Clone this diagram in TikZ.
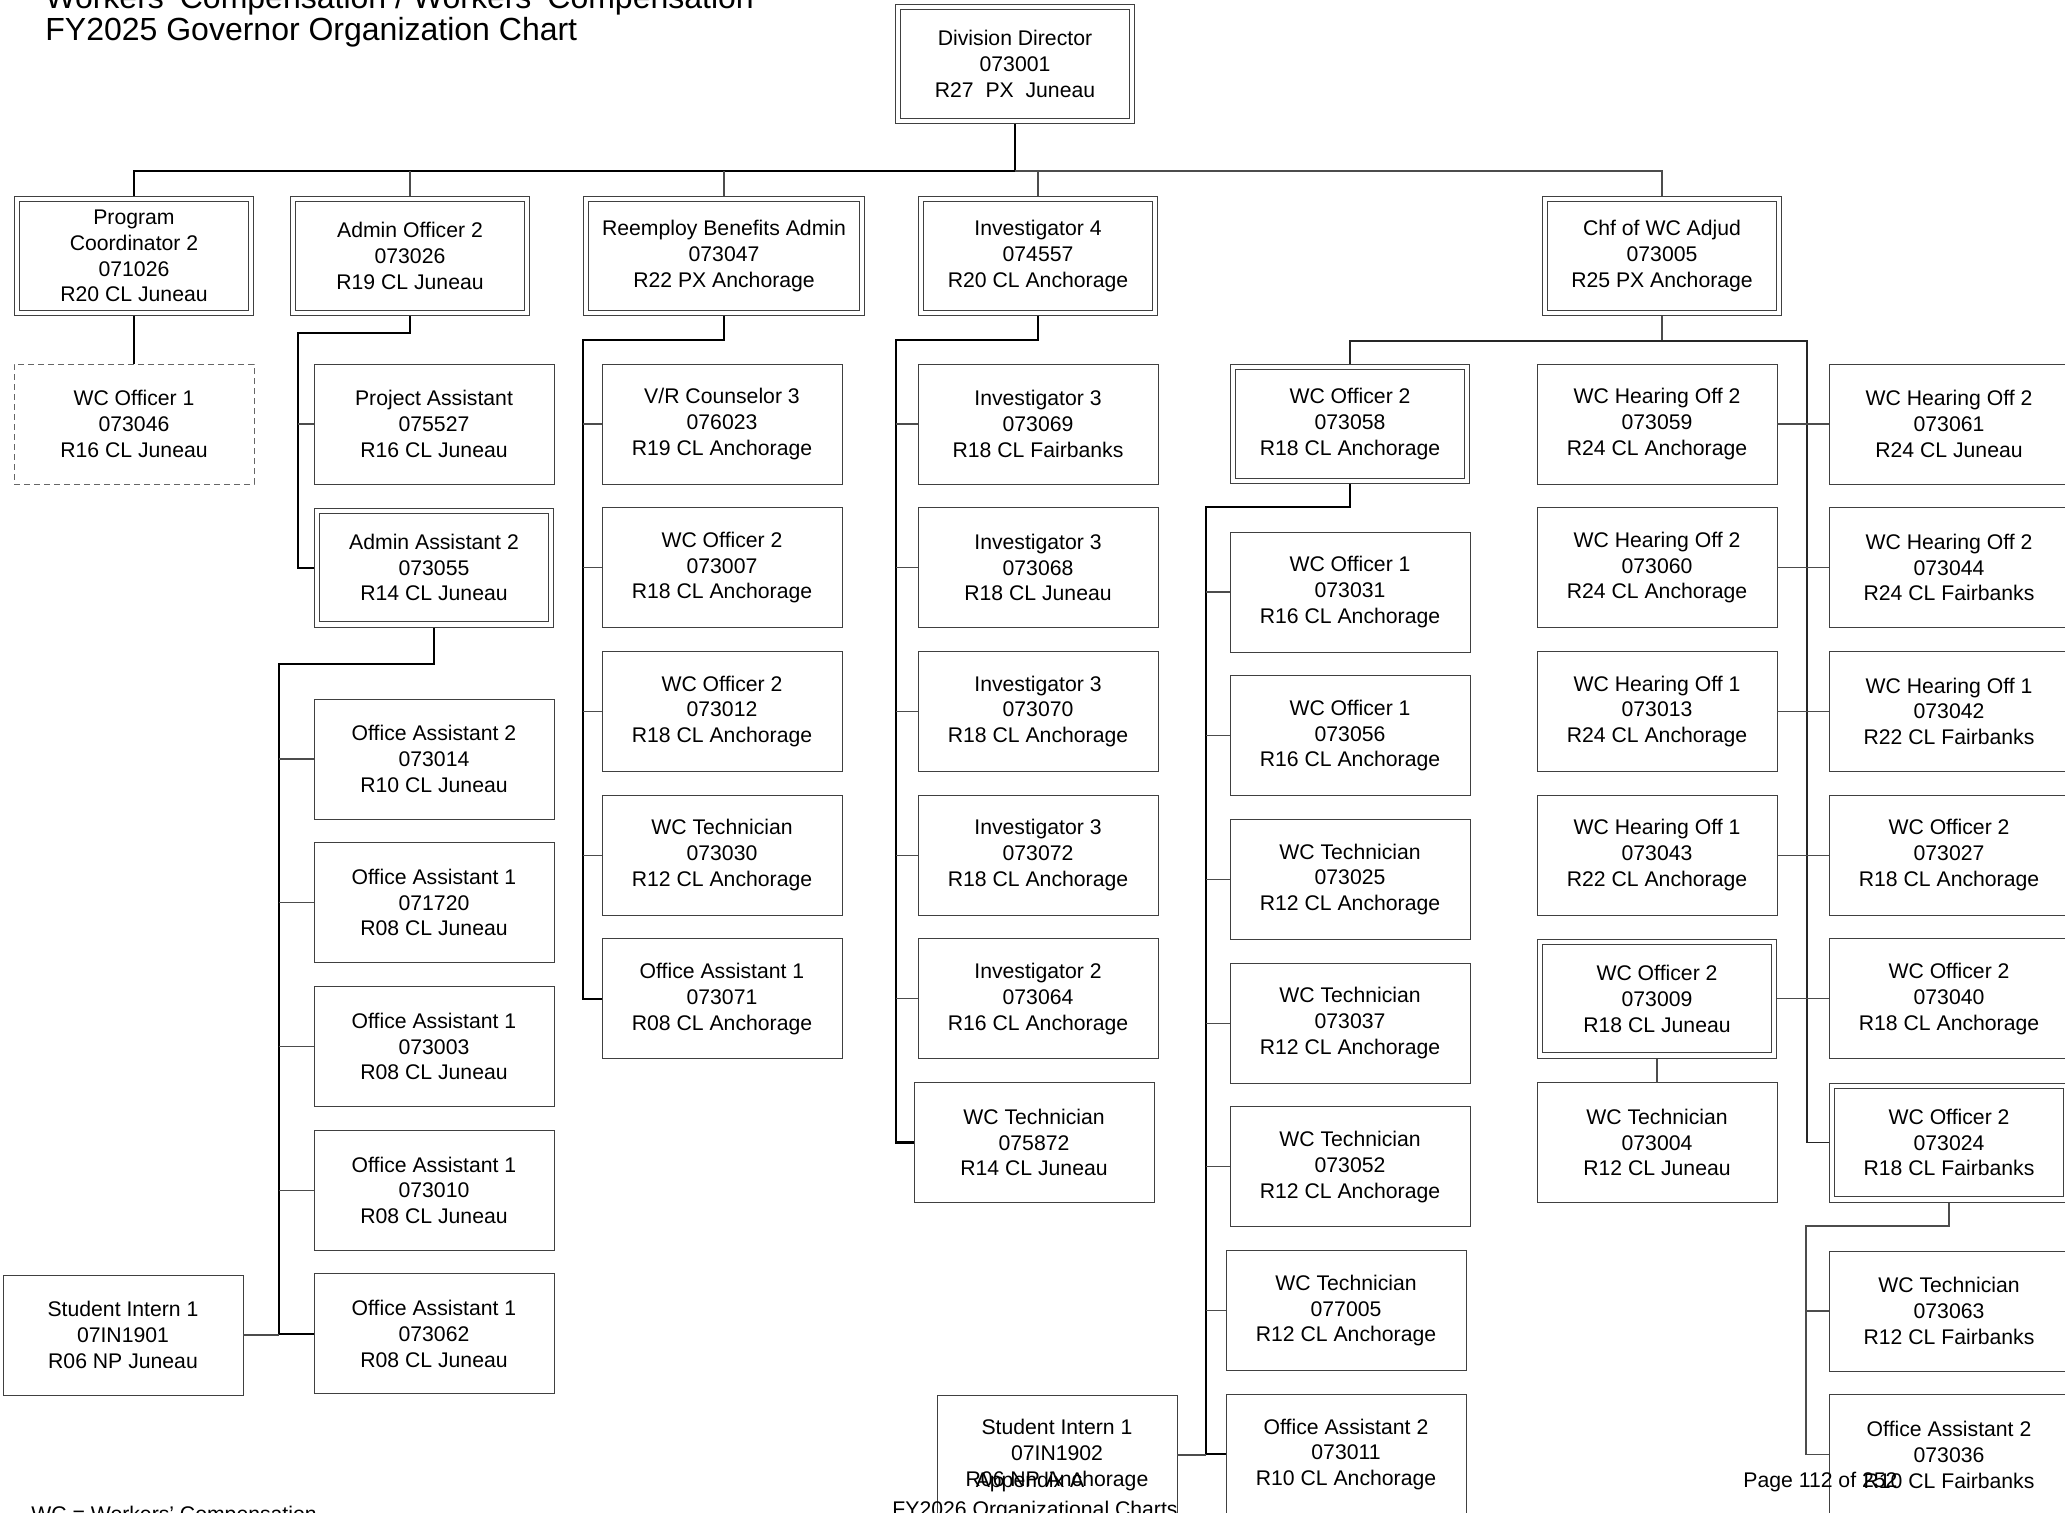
\documentclass[tikz,border=0pt]{standalone}
\usepackage{fontspec}
\setmainfont{Liberation Sans}
\usetikzlibrary{positioning}

\begin{document}
\begin{tikzpicture}[x=0.5pt, y=-0.5pt, node distance=11.85pt,
    post/.style={draw=black!75, line width=0.5pt, fill=white, minimum width=120pt, minimum height=60pt,
      inner sep=0pt, outer sep=0pt, align=center, font=\fontsize{10.6}{12.85}\selectfont},
    lead/.style={post, double=white, double distance=2.2pt, minimum width=116.8pt, minimum height=56.8pt, outer sep=1.6pt},
    vacant/.style={post, draw=black!60, dash pattern=on 3pt off 2pt},
    trunk/.style={line width=1.2pt},
    twig/.style={line width=0.6pt, draw=black!70},
    note/.style={inner sep=0pt, font=\fontsize{10.6}{12.85}\selectfont}]
  \useasboundingbox (0,0) rectangle (2065,1512);
  \clip (0,0) rectangle (2065,1512);

  \node[note, anchor=base west, font=\fontsize{16}{16}\selectfont] (head1) at (45,8) {Workers' Compensation / Workers' Compensation};
  \node[note, anchor=base west, font=\fontsize{16}{16}\selectfont] (head2) at (45,40) {FY2025 Governor Organization Chart};

  \node[lead] (dir) at (1015,64) {Division Director\\073001\\R27~ PX~ Juneau};

  \node[lead] (prog) at (134,256) {Program\\Coordinator 2\\071026\\R20 CL Juneau};
  \node[lead] (admin) at (410,256) {Admin Officer 2\\073026\\R19 CL Juneau};
  \node[lead, minimum width=137.8pt] (reemp) at (724,256) {Reemploy Benefits Admin\\073047\\R22 PX Anchorage};
  \node[lead] (inv4) at (1038,256) {Investigator 4\\074557\\R20 CL Anchorage};
  \node[lead] (chief) at (1662,256) {Chf of WC Adjud\\073005\\R25 PX Anchorage};

  \node[vacant] (wco1) at (134,424) {WC Officer 1\\073046\\R16 CL Juneau};
  \node[post] (stud1) at (123,1335) {Student Intern 1\\07IN1901\\R06 NP Juneau};

  \node[post] (proj) at (434,424) {Project Assistant\\075527\\R16 CL Juneau};
  \node[lead, below=of proj] (asst2) {Admin Assistant 2\\073055\\R14 CL Juneau};
  \node[post] (oa2b) at (434,759) {Office Assistant 2\\073014\\R10 CL Juneau};
  \node[post, below=of oa2b] (oa1b1) {Office Assistant 1\\071720\\R08 CL Juneau};
  \node[post, below=of oa1b1] (oa1b2) {Office Assistant 1\\073003\\R08 CL Juneau};
  \node[post, below=of oa1b2] (oa1b3) {Office Assistant 1\\073010\\R08 CL Juneau};
  \node[post, below=of oa1b3] (oa1b4) {Office Assistant 1\\073062\\R08 CL Juneau};

  \node[post] (vrc) at (722,424) {V/R Counselor 3\\076023\\R19 CL Anchorage};
  \node[post, below=of vrc] (wco2c1) {WC Officer 2\\073007\\R18 CL Anchorage};
  \node[post, below=of wco2c1] (wco2c2) {WC Officer 2\\073012\\R18 CL Anchorage};
  \node[post, below=of wco2c2] (techc) {WC Technician\\073030\\R12 CL Anchorage};
  \node[post, below=of techc] (oa1c) {Office Assistant 1\\073071\\R08 CL Anchorage};

  \node[post] (inv3a) at (1038,424) {Investigator 3\\073069\\R18 CL Fairbanks};
  \node[post, below=of inv3a] (inv3b) {Investigator 3\\073068\\R18 CL Juneau};
  \node[post, below=of inv3b] (inv3c) {Investigator 3\\073070\\R18 CL Anchorage};
  \node[post, below=of inv3c] (inv3d) {Investigator 3\\073072\\R18 CL Anchorage};
  \node[post, below=of inv3d] (inv2) {Investigator 2\\073064\\R16 CL Anchorage};
  \node[post, below=of inv2, xshift=-2pt] (techd) {WC Technician\\075872\\R14 CL Juneau};
  \node[post] (stud2) at (1057,1455) {Student Intern 1\\07IN1902\\R06 NP Anchorage};

  \node[lead] (wco2e) at (1350,424) {WC Officer 2\\073058\\R18 CL Anchorage};
  \node[post] (wco1e1) at (1350,592) {WC Officer 1\\073031\\R16 CL Anchorage};
  \node[post, below=of wco1e1] (wco1e2) {WC Officer 1\\073056\\R16 CL Anchorage};
  \node[post, below=of wco1e2] (teche1) {WC Technician\\073025\\R12 CL Anchorage};
  \node[post, below=of teche1] (teche2) {WC Technician\\073037\\R12 CL Anchorage};
  \node[post, below=of teche2] (teche3) {WC Technician\\073052\\R12 CL Anchorage};
  \node[post, below=of teche3, xshift=-2pt] (teche4) {WC Technician\\077005\\R12 CL Anchorage};
  \node[post, below=of teche4] (oa2e) {Office Assistant 2\\073011\\R10 CL Anchorage};

  \node[post] (hearf1) at (1657,424) {WC Hearing Off 2\\073059\\R24 CL Anchorage};
  \node[post, below=of hearf1] (hearf2) {WC Hearing Off 2\\073060\\R24 CL Anchorage};
  \node[post, below=of hearf2] (hearf3) {WC Hearing Off 1\\073013\\R24 CL Anchorage};
  \node[post, below=of hearf3] (hearf4) {WC Hearing Off 1\\073043\\R22 CL Anchorage};
  \node[lead, below=of hearf4] (wco2f) {WC Officer 2\\073009\\R18 CL Juneau};
  \node[post, below=of wco2f] (techf) {WC Technician\\073004\\R12 CL Juneau};

  \node[post] (hearg1) at (1949,424) {WC Hearing Off 2\\073061\\R24 CL Juneau};
  \node[post, below=of hearg1] (hearg2) {WC Hearing Off 2\\073044\\R24 CL Fairbanks};
  \node[post, below=of hearg2] (hearg3) {WC Hearing Off 1\\073042\\R22 CL Fairbanks};
  \node[post, below=of hearg3] (wco2g1) {WC Officer 2\\073027\\R18 CL Anchorage};
  \node[post, below=of wco2g1] (wco2g2) {WC Officer 2\\073040\\R18 CL Anchorage};
  \node[lead, below=of wco2g2] (wco2g3) {WC Officer 2\\073024\\R18 CL Fairbanks};
  \node[post] (techg) at (1949,1311) {WC Technician\\073063\\R12 CL Fairbanks};
  \node[post, below=of techg] (oa2g) {Office Assistant 2\\073036\\R10 CL Fairbanks};

  \coordinate (hub) at (1015,171);
  \draw[trunk] (dir.south) -- (hub);
  \draw[trunk] (hub) -| (prog.north);
  \draw[twig] (hub) -| (chief.north);
  \foreach \n in {admin,reemp,inv4}
    \draw[twig] (hub -| \n.north) -- (\n.north);
  \draw[trunk] (prog.south) -- (wco1.north);

  \coordinate (jadm) at (298,333);
  \draw[trunk] (admin.south) |- (jadm) |- (asst2.west);
  \draw[twig] (jadm |- proj.west) -- (proj.west);

  \coordinate (jasst) at (279,664);
  \draw[trunk] (asst2.south) |- (jasst) |- (oa1b4.west);
  \foreach \n in {oa2b,oa1b1,oa1b2,oa1b3}
    \draw[twig] (jasst |- \n.west) -- (\n.west);
  \draw[twig] (stud1.east) -- (jasst |- stud1.east);

  \coordinate (jreemp) at (583,340);
  \draw[trunk] (reemp.south) |- (jreemp) |- (oa1c.west);
  \foreach \n in {vrc,wco2c1,wco2c2,techc}
    \draw[twig] (jreemp |- \n.west) -- (\n.west);

  \coordinate (jinv) at (896,340);
  \draw[trunk] (inv4.south) |- (jinv) |- (techd.west);
  \foreach \n in {inv3a,inv3b,inv3c,inv3d,inv2}
    \draw[twig] (jinv |- \n.west) -- (\n.west);

  \coordinate (jchf) at (1662,341);
  \coordinate (jhear) at (1807,341);
  \draw[twig] (chief.south) -- (jchf);
  \draw[twig, draw=black!85] (wco2e.north) |- (jhear) |- (wco2g3.west);
  \foreach \l/\r in {hearf1/hearg1,hearf2/hearg2,hearf3/hearg3,hearf4/wco2g1,wco2f/wco2g2}
    \draw[twig] (\l.east) -- (\r.west);
  \draw[twig] (wco2f.south) -- (techf.north);

  \coordinate (jwco) at (1206,507);
  \draw[trunk] (wco2e.south) |- (jwco) |- (oa2e.west);
  \foreach \n in {wco1e1,wco1e2,teche1,teche2,teche3,teche4}
    \draw[twig] (jwco |- \n.west) -- (\n.west);
  \draw[twig] (stud2.east) -- (jwco |- stud2.east);

  \coordinate (jwcog) at (1806,1226);
  \draw[twig] (wco2g3.south) |- (jwcog) |- (oa2g.west);
  \draw[twig] (jwcog |- techg.west) -- (techg.west);

  \node[note, anchor=base west] (legend) at (31,1521) {WC = Workers' Compensation};
  \node[note, anchor=base] (appx) at (1030,1487) {Appendix A};
  \node[note, anchor=base] (book) at (1035,1516) {FY2026 Organizational Charts};
  \node[note, anchor=base west] (pageno) at (1743,1487) {Page 112 of 252};
\end{tikzpicture}
\end{document}
